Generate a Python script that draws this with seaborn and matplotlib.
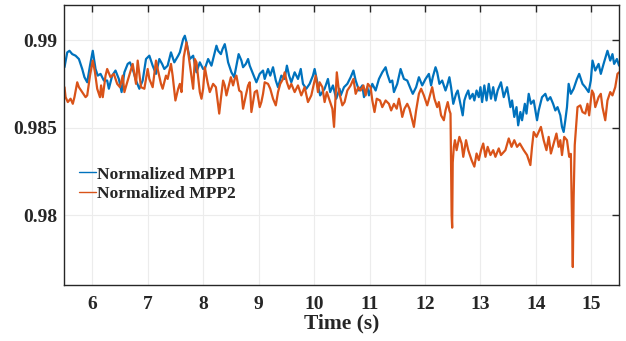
import matplotlib
matplotlib.use("Agg")
import matplotlib.pyplot as plt
import seaborn as sns
import pandas as pd

# values
t_mpp1 = [5.50, 5.55, 5.59, 5.64, 5.70, 5.76, 5.82, 5.86, 5.91, 5.96, 6.01, 6.06, 6.10, 6.15, 6.21, 6.27,
          6.30, 6.36, 6.42, 6.48, 6.53, 6.58, 6.64, 6.68, 6.73, 6.79, 6.85, 6.91, 6.97, 7.03, 7.09, 7.15,
          7.21, 7.26, 7.30, 7.36, 7.42, 7.48, 7.55, 7.58, 7.64, 7.67, 7.70, 7.76, 7.82, 7.88, 7.94, 8.00,
          8.03, 8.09, 8.15, 8.21, 8.24, 8.27, 8.32, 8.35, 8.39, 8.42, 8.45, 8.51, 8.56, 8.60, 8.64, 8.69,
          8.72, 8.77, 8.81, 8.84, 8.90, 8.96, 9.02, 9.08, 9.11, 9.17, 9.21, 9.26, 9.31, 9.35, 9.41, 9.47,
          9.51, 9.55, 9.59, 9.65, 9.71, 9.76, 9.80, 9.86, 9.92, 9.98, 10.01, 10.07, 10.11, 10.19, 10.25,
          10.29, 10.34, 10.40, 10.46, 10.48, 10.54, 10.60, 10.66, 10.71, 10.75, 10.81, 10.87, 10.90, 10.96,
          10.99, 11.05, 11.11, 11.17, 11.23, 11.29, 11.32, 11.37, 11.41, 11.44, 11.50, 11.56, 11.62, 11.68,
          11.74, 11.78, 11.84, 11.89, 11.95, 12.01, 12.07, 12.11, 12.14, 12.19, 12.22, 12.26, 12.31, 12.37,
          12.40, 12.44, 12.47, 12.51, 12.56, 12.59, 12.65, 12.68, 12.71, 12.74, 12.78, 12.81, 12.86, 12.89,
          12.93, 12.97, 13.00, 13.03, 13.07, 13.11, 13.15, 13.19, 13.23, 13.27, 13.31, 13.37, 13.42, 13.48,
          13.54, 13.57, 13.61, 13.65, 13.68, 13.72, 13.75, 13.80, 13.83, 13.87, 13.91, 13.96, 14.02, 14.05,
          14.11, 14.17, 14.21, 14.26, 14.31, 14.35, 14.39, 14.44, 14.47, 14.50, 14.53, 14.56, 14.59, 14.63,
          14.68, 14.74, 14.78, 14.84, 14.89, 14.95, 14.99, 15.02, 15.07, 15.13, 15.17, 15.22, 15.29, 15.34,
          15.38, 15.41, 15.46, 15.50]
mpp1 = [0.98845, 0.98930, 0.98939, 0.98920, 0.98911, 0.98892, 0.98835, 0.98788, 0.98759, 0.98854, 0.98939,
        0.98835, 0.98797, 0.98807, 0.98769, 0.98769, 0.98722, 0.98797, 0.98826, 0.98778, 0.98703, 0.98816,
        0.98864, 0.98873, 0.98835, 0.98769, 0.98722, 0.98769, 0.98892, 0.98911, 0.98854, 0.98807, 0.98892,
        0.98864, 0.98835, 0.98854, 0.98930, 0.98873, 0.98911, 0.98930, 0.99006, 0.99025, 0.98987, 0.98892,
        0.98911, 0.98816, 0.98873, 0.98835,
        0.98835, 0.98892, 0.98854, 0.98930, 0.98968, 0.98939, 0.98920, 0.98949, 0.98977, 0.98930, 0.98873,
        0.98816, 0.98788, 0.98854, 0.98920, 0.98883, 0.98845, 0.98864, 0.98892, 0.98854, 0.98807, 0.98759,
        0.98807, 0.98826, 0.98778, 0.98835, 0.98797, 0.98845, 0.98769, 0.98731, 0.98797, 0.98778, 0.98854,
        0.98797, 0.98759, 0.98816, 0.98778, 0.98835, 0.98750, 0.98722, 0.98750, 0.98797, 0.98835, 0.98741,
        0.98684, 0.98722, 0.98778, 0.98703, 0.98741, 0.98665, 0.98722,
        0.98684, 0.98731, 0.98750, 0.98788, 0.98826, 0.98769, 0.98712, 0.98741, 0.98674, 0.98731, 0.98684,
        0.98750, 0.98712, 0.98778, 0.98816, 0.98845, 0.98807, 0.98759, 0.98769, 0.98703, 0.98750, 0.98835,
        0.98778, 0.98769, 0.98722, 0.98693, 0.98731, 0.98788, 0.98741, 0.98778, 0.98807, 0.98741, 0.98788,
        0.98845, 0.98816, 0.98750, 0.98769, 0.98712, 0.98741, 0.98788, 0.98731, 0.98636, 0.98693, 0.98712,
        0.98617, 0.98570, 0.98655, 0.98684, 0.98712, 0.98665, 0.98693, 0.98655, 0.98712,
        0.98674, 0.98731, 0.98646, 0.98741, 0.98655, 0.98750, 0.98665, 0.98731, 0.98655, 0.98712, 0.98759,
        0.98674, 0.98731, 0.98617, 0.98655, 0.98561, 0.98617, 0.98513, 0.98589, 0.98542, 0.98636, 0.98580,
        0.98693, 0.98636, 0.98655, 0.98542, 0.98598, 0.98674, 0.98693, 0.98655, 0.98674, 0.98636, 0.98598,
        0.98617, 0.98570, 0.98504, 0.98475, 0.98542, 0.98617, 0.98750, 0.98693, 0.98722, 0.98778, 0.98807,
        0.98750, 0.98731, 0.98703, 0.98769, 0.98883, 0.98826, 0.98864, 0.98807, 0.98864, 0.98939, 0.98883,
        0.98920, 0.98864, 0.98892, 0.98854]

t_mpp2 = [5.50, 5.52, 5.56, 5.61, 5.65, 5.68, 5.73, 5.76, 5.82, 5.88, 5.91, 5.96, 6.01, 6.05, 6.09, 6.14,
          6.16, 6.19, 6.24, 6.27, 6.33, 6.39, 6.45, 6.50, 6.55, 6.58, 6.64, 6.73, 6.76, 6.79, 6.82, 6.88,
          6.94, 7.00, 7.03, 7.09, 7.15, 7.18, 7.24, 7.27, 7.33, 7.36, 7.42, 7.45, 7.50, 7.55, 7.58, 7.61,
          7.65, 7.70, 7.73, 7.78, 7.82, 7.85, 7.88, 7.94, 7.97, 8.00, 8.03, 8.08, 8.12, 8.18, 8.23, 8.29,
          8.32, 8.36, 8.39, 8.42, 8.47, 8.50, 8.54, 8.57, 8.60, 8.65, 8.69, 8.72, 8.77, 8.81, 8.84, 8.87,
          8.90, 8.93, 8.97, 9.02, 9.05, 9.08, 9.11, 9.17, 9.21, 9.26, 9.31, 9.35, 9.39, 9.44, 9.47, 9.51,
          9.55, 9.59, 9.65, 9.71, 9.77, 9.83, 9.89, 9.95, 9.99, 10.03, 10.07, 10.10, 10.15, 10.19, 10.23,
          10.29, 10.33, 10.36, 10.38, 10.41, 10.45, 10.51, 10.55, 10.60, 10.66, 10.71, 10.75, 10.80, 10.84,
          10.89, 10.93, 10.97, 11.02, 11.05, 11.09, 11.13, 11.19, 11.23, 11.29, 11.35, 11.39, 11.44, 11.49,
          11.53, 11.56, 11.59, 11.63, 11.68, 11.72, 11.80, 11.84, 11.89, 11.93, 11.98, 12.04, 12.08, 12.13,
          12.17, 12.22, 12.25, 12.29, 12.34, 12.37, 12.41, 12.44, 12.46, 12.48, 12.49, 12.50, 12.52, 12.54,
          12.57, 12.62, 12.66, 12.69, 12.74, 12.78, 12.84, 12.89, 12.93, 12.97, 13.01, 13.05, 13.09, 13.13,
          13.18, 13.23, 13.27, 13.33, 13.37, 13.45, 13.51, 13.56, 13.61, 13.66, 13.71, 13.78, 13.84, 13.90,
          13.93, 13.96, 14.01, 14.09, 14.14, 14.19, 14.23, 14.27, 14.32, 14.37, 14.41, 14.44, 14.47, 14.51,
          14.56, 14.60, 14.63, 14.65, 14.665, 14.68, 14.70, 14.72, 14.75, 14.80, 14.84, 14.89, 14.93, 14.96,
          15.01, 15.04, 15.07, 15.13, 15.17, 15.20, 15.25, 15.29, 15.34, 15.38, 15.43, 15.47, 15.50]
mpp2 = [0.98731, 0.98674, 0.98646, 0.98665, 0.98636, 0.98674, 0.98759, 0.98731, 0.98703, 0.98674, 0.98684,
        0.98797, 0.98883, 0.98816, 0.98722, 0.98674, 0.98741, 0.98674, 0.98797, 0.98835, 0.98788, 0.98807,
        0.98750, 0.98731, 0.98797, 0.98703, 0.98769, 0.98864, 0.98807, 0.98750, 0.98883, 0.98731, 0.98722,
        0.98835, 0.98778, 0.98731, 0.98883, 0.98835, 0.98750, 0.98722, 0.98797, 0.98778, 0.98864, 0.98797,
        0.98655, 0.98722, 0.98750, 0.98703, 0.98902, 0.98987, 0.98930, 0.98816, 0.98722, 0.98892, 0.98873,
        0.98703, 0.98665, 0.98722,
        0.98845, 0.98759, 0.98703, 0.98750, 0.98731, 0.98580, 0.98665, 0.98769, 0.98741, 0.98684, 0.98750,
        0.98788, 0.98741, 0.98778, 0.98797, 0.98712, 0.98703, 0.98608, 0.98684, 0.98741, 0.98759, 0.98589,
        0.98646, 0.98703, 0.98712, 0.98617, 0.98646, 0.98693, 0.98759, 0.98750, 0.98722, 0.98665, 0.98627,
        0.98703, 0.98750, 0.98778, 0.98816, 0.98759, 0.98722, 0.98750, 0.98703, 0.98741, 0.98684, 0.98731,
        0.98646, 0.98684, 0.98741, 0.98797, 0.98703, 0.98759, 0.98731, 0.98646, 0.98703, 0.98646, 0.98608,
        0.98504, 0.98627, 0.98816, 0.98703,
        0.98627, 0.98646, 0.98712, 0.98741, 0.98778, 0.98693, 0.98731, 0.98712, 0.98741, 0.98684, 0.98750,
        0.98731, 0.98655, 0.98589, 0.98665, 0.98655, 0.98617, 0.98655, 0.98636, 0.98598, 0.98636, 0.98608,
        0.98665, 0.98617, 0.98561, 0.98608, 0.98636, 0.98608, 0.98504, 0.98598, 0.98693, 0.98722, 0.98684,
        0.98627, 0.98674, 0.98731, 0.98665, 0.98617, 0.98646, 0.98570, 0.98542, 0.98598, 0.98646, 0.98598,
        0.98580, 0.98000, 0.97928, 0.98300, 0.98390, 0.98428, 0.98371, 0.98447, 0.98409, 0.98333, 0.98428,
        0.98371, 0.98314, 0.98277, 0.98352,
        0.98314, 0.98371, 0.98409, 0.98333, 0.98390, 0.98343, 0.98371, 0.98333, 0.98381, 0.98343, 0.98371,
        0.98438, 0.98390, 0.98428, 0.98390, 0.98409, 0.98371, 0.98343, 0.98286, 0.98390, 0.98475, 0.98447,
        0.98504, 0.98428, 0.98371, 0.98447, 0.98352, 0.98409, 0.98466, 0.98390, 0.98428, 0.98343, 0.98447,
        0.98428, 0.98333, 0.98350, 0.98000, 0.97703, 0.98100, 0.98400, 0.98485, 0.98617, 0.98627, 0.98589,
        0.98580, 0.98636, 0.98570, 0.98712, 0.98693, 0.98617, 0.98674, 0.98693, 0.98617, 0.98542, 0.98655,
        0.98703, 0.98684, 0.98731, 0.98807, 0.98816]

x_ticks = [6, 7, 8, 9, 10, 11, 12, 13, 14, 15]
y_ticks = [0.98, 0.985, 0.99]
y_tick_labels = ["0.98", "0.985", "0.99"]

df1 = pd.DataFrame({"t": t_mpp1, "v": mpp1})
df2 = pd.DataFrame({"t": t_mpp2, "v": mpp2})

sns.set_style("whitegrid")
plt.rcParams["font.family"] = ["Liberation Serif", "DejaVu Serif"]
plt.rcParams["font.weight"] = "bold"

dark = "#262626"
fig = plt.figure(figsize=(6.26, 3.41), dpi=100)
ax = fig.add_axes([0.103, 0.164, 0.886, 0.821])

sns.lineplot(data=df1, x="t", y="v", ax=ax, color="#0072BD", lw=1.6,
             estimator=None, label="Normalized MPP1")
sns.lineplot(data=df2, x="t", y="v", ax=ax, color="#D95319", lw=1.6,
             estimator=None, label="Normalized MPP2")

ax.set_xlim(5.5, 15.5)
ax.set_ylim(0.976, 0.992)
ax.set_xticks(x_ticks)
ax.set_yticks(y_ticks)
ax.set_yticklabels(y_tick_labels)
ax.grid(True, color="#ececec", lw=0.8)

for s in ax.spines.values():
    s.set_visible(True)
    s.set_color(dark)
    s.set_linewidth(1.0)

ax.tick_params(direction="in", length=5, width=1, color=dark, labelcolor=dark,
               labelsize=14, top=True, right=True)
ax.tick_params(axis="x", pad=8)
ax.tick_params(axis="y", pad=5)
for lab in ax.get_xticklabels() + ax.get_yticklabels():
    lab.set_fontweight("bold")

ax.set_xlabel("Time (s)", fontsize=15.5, fontweight="bold", color=dark, labelpad=0)
ax.set_ylabel("")

leg = ax.legend(loc="center left", bbox_to_anchor=(0.026, 0.36), frameon=False,
                borderaxespad=0, borderpad=0, handlelength=0.95, handletextpad=0.1,
                labelspacing=0.2, prop={"size": 12.6, "weight": "bold"})
for txt in leg.get_texts():
    txt.set_color(dark)
for h in leg.get_lines():
    h.set_linewidth(1.0)

fig.savefig("out.png", dpi=100)
